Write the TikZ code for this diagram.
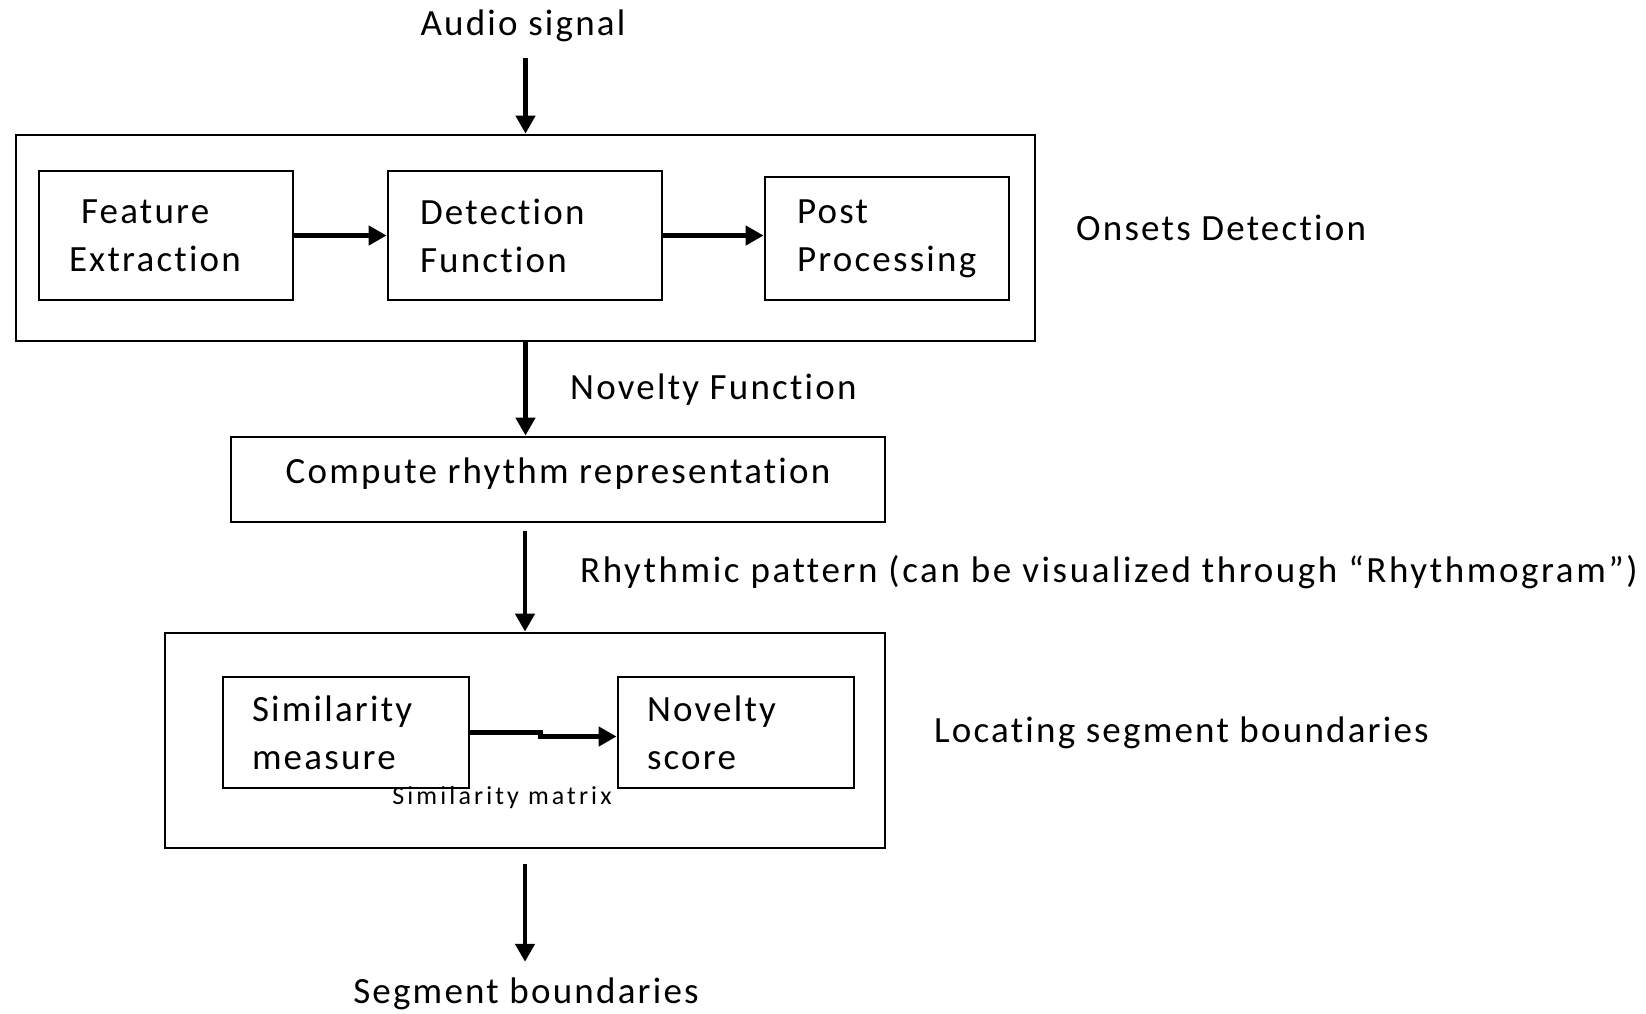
\documentclass[tikz,border=0pt]{standalone}
\usepackage{fontspec}
\setmainfont[LetterSpace=6,Ligatures={NoCommon}]{Carlito}
\usetikzlibrary{arrows.meta}
\begin{document}
\begin{tikzpicture}[x=1pt,y=-1pt,
  every node/.style={font=\fontsize{37}{48}\selectfont},
  box/.style={draw,line width=2.8pt,align=left,inner ysep=0pt},
  outer/.style={draw,line width=2.8pt,inner sep=0pt},
  arr/.style={line width=4.8pt,-{Triangle[length=18pt,width=19pt]}},
  lbl/.style={inner sep=0pt}]
\useasboundingbox (0,0) rectangle (1646,1013);
% outer boxes
\node[outer,minimum width=1019,minimum height=206] (o1) at (525.5,238) {};
\node[outer,minimum width=720,minimum height=215] (o2) at (525,740.5) {};
% inner boxes
\node[box,minimum height=129,inner xsep=30pt,text width=194pt] (fe) at (166,235.5) {\hspace*{12pt}Feature\\Extraction};
\node[box,minimum height=129,inner xsep=32pt,text width=210pt] (df) at (525,235.5) {Detection\\Function};
\node[box,minimum height=123,inner xsep=32pt,text width=180pt] (pp) at (887,238.5) {Post\\Processing};
\node[box,minimum height=85,minimum width=654,align=center] (cr) at (558,479.5) {\raisebox{6pt}[\height][\depth]{Compute rhythm representation}};
\node[box,minimum height=111,inner xsep=29pt,text width=188pt] (sm) at (346,732.5) {Similarity\\measure};
\node[box,minimum height=111,inner xsep=29pt,text width=178pt] (ns) at (736,732.5) {Novelty\\score};
% labels
\node[lbl] (audio) at (523,26) {Audio signal};
\node[lbl,anchor=west] (onset) at (1076,228) {Onsets Detection};
\node[lbl,anchor=west] (novf) at (570,390) {Novelty Function};
\node[lbl,anchor=west,font=\fontsize{37}{48}\selectfont\addfontfeature{LetterSpace=7}] (rhy) at (580,572) {Rhythmic pattern (can be visualized through “Rhythmogram”)};
\node[lbl,anchor=west] (loc) at (934,733) {Locating segment boundaries};
\node[lbl,font=\fontsize{26}{30}\selectfont\addfontfeature{LetterSpace=12}] (smx) at (502,798) {Similarity matrix};
\node[lbl] (seg) at (526,994) {Segment boundaries};
% arrows
\draw[arr,shorten <=16pt] (audio.south -| o1.north) -- (o1.north);
\draw[arr] (fe.east) -- (df.west);
\draw[arr] (df.east) -- (df.east -| pp.west);
\draw[arr] (o1.south) -- (o1.south |- cr.north);
\draw[arr,shorten <=8pt] (cr.south -| o2.north) -- (o2.north);
\draw[arr] (sm.east) -- ++(70,0) |- ([yshift=-4pt]ns.west);
\draw[arr,shorten <=15pt,shorten >=16pt] (o2.south) -- (o2.south |- seg.north);
\end{tikzpicture}
\end{document}
